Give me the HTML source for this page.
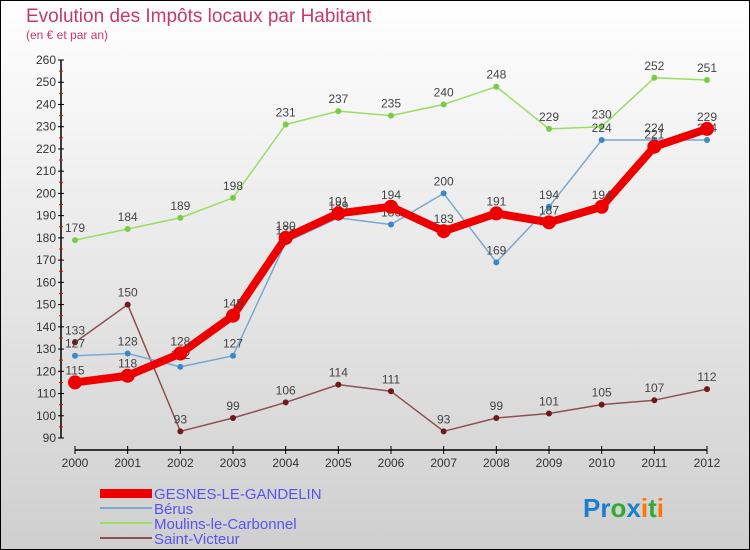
<!DOCTYPE html>
<html><head><meta charset="utf-8"><style>
body{margin:0;width:750px;height:550px;overflow:hidden}
svg{display:block;font-family:"Liberation Sans",sans-serif}
</style></head><body>
<svg width="750" height="550" id="c">
<defs><linearGradient id="bg" x1="0" y1="0" x2="0" y2="1"><stop offset="0" stop-color="#ffffff"/><stop offset="1" stop-color="#cfcfcf"/></linearGradient></defs>
<rect x="0.5" y="0.5" width="749" height="549" fill="url(#bg)" stroke="#000"/>
<text x="26" y="22" font-size="19" fill="#c8386a">Evolution des Impôts locaux par Habitant</text>
<text x="26" y="39" font-size="12" fill="#c8386a">(en € et par an)</text>
<g id="axes"></g><g id="series"></g>
<g font-size="15" fill="#5555ee">
<rect x="100" y="489" width="52" height="9" fill="#ee0000"/>
<text x="154" y="499">GESNES-LE-GANDELIN</text>
<rect x="100" y="507" width="52" height="2" fill="#7aa8d0"/>
<text x="154" y="514">Bérus</text>
<rect x="100" y="522" width="52" height="2" fill="#99dd66"/>
<text x="154" y="529">Moulins-le-Carbonnel</text>
<rect x="100" y="537" width="52" height="2" fill="#8e5050"/>
<text x="154" y="544">Saint-Victeur</text>
</g>
<text x="583" y="517" font-size="26" font-weight="bold"><tspan fill="#1a7fd0">Pr</tspan><tspan fill="#33aa33">o</tspan><tspan fill="#1a7fd0">x</tspan><tspan fill="#ff7700">i</tspan><tspan fill="#33aa33">t</tspan><tspan fill="#ff7700">i</tspan></text>
</svg>
<script>
const years=[2000,2001,2002,2003,2004,2005,2006,2007,2008,2009,2010,2011,2012];
const yTicks=[90,100,110,120,130,140,150,160,170,180,190,200,210,220,230,240,250,260];
const gesnes=[115,118,128,145,180,191,194,183,191,187,194,221,229];
const berus=[127,128,122,127,178,189,186,200,169,194,224,224,224];
const moulins=[179,184,189,198,231,237,235,240,248,229,230,252,251];
const saintVicteur=[133,150,93,99,106,114,111,93,99,101,105,107,112];
const NS="http://www.w3.org/2000/svg";
const X=i=>75+i*(707-75)/(years.length-1);
const Y=v=>438-(v-90)*(438-60)/(260-90);
function mk(t,a,p,txt){const e=document.createElementNS(NS,t);for(const k in a)e.setAttribute(k,a[k]);if(txt!==undefined)e.textContent=txt;p.appendChild(e);return e;}
const ax=document.getElementById('axes');
let e=mk('line',{x1:61,y1:60,x2:61,y2:438,stroke:'#000','stroke-width':1.5},ax);


e=mk('line',{x1:75,y1:450,x2:707,y2:450,stroke:'#000','stroke-width':1.5},ax);


yTicks.forEach(v=>{mk('line',{x1:58,y1:Y(v),x2:64,y2:Y(v),stroke:'#000'},ax);
 if(v<260)mk('line',{x1:59,y1:Y(v+5),x2:63,y2:Y(v+5),stroke:'#e00'},ax);
 const t=mk('text',{x:56,y:Y(v)+4,'text-anchor':'end','font-size':12,fill:'#333'},ax,v);
 
 });
years.forEach((y,i)=>{mk('line',{x1:X(i),y1:446,x2:X(i),y2:454,stroke:'#000'},ax);
 const t=mk('text',{x:X(i),y:467,'text-anchor':'middle','font-size':12,fill:'#333'},ax,y);
 
 });
const sg=document.getElementById('series');
function draw(data,name,color,w,r,dot){
 const g=mk('g',{},sg);
 
 
 mk('polyline',{points:data.map((v,i)=>X(i)+','+Y(v)).join(' '),fill:'none',stroke:color,'stroke-width':w,'stroke-linejoin':'round'},g);
 data.forEach((v,i)=>{const c=mk('circle',{cx:X(i),cy:Y(v),r:r,fill:dot},g);
  
  
  const t=mk('text',{x:X(i),y:Y(v)-8,'text-anchor':'middle','font-size':12,fill:'#444'},g,v);
  
  });
}
draw(moulins,'moulins','#99dd66',1.5,3,'#77cc44');
draw(saintVicteur,'saint-victeur','#8e5050',1.5,3,'#6e1a1a');
draw(berus,'berus','#7aa8d0',1.5,3,'#3b88c8');
draw(gesnes,'gesnes','#ee0000',8,7,'#ee0000');
</script>
</body></html>
